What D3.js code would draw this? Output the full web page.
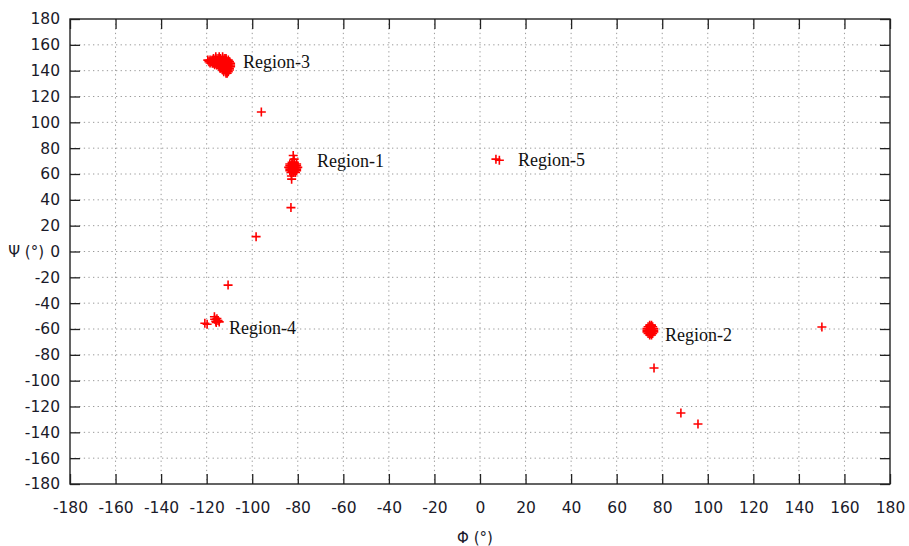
<!DOCTYPE html>
<html>
<head>
<meta charset="utf-8">
<script src="https://cdn.jsdelivr.net/npm/d3@7"></script>
<style>
  body { margin: 0; background: #fff; }
  .tick text { font-family: "DejaVu Sans", sans-serif; font-size: 15.5px; fill: #1a1a2a; }
  .lbl { font-family: "Liberation Serif", "Times New Roman", serif; font-size: 18px; fill: #111; }
  .ttl { font-family: "DejaVu Sans", sans-serif; font-size: 15px; fill: #1a1a2a; }
</style>
</head>
<body>
<div id="canvas"></div>
<script>
// ticks on both axes (degrees)
const ticks = [-180,-160,-140,-120,-100,-80,-60,-40,-20,0,20,40,60,80,100,120,140,160,180];

// [phi, psi] points
const region3 = [
  [-116,150.8],[-114.5,150.8],[-113,150.8],
  [-117,149.5],[-116,149.5],[-115,149.5],[-114,149.5],[-113,149.5],[-112,149.5],[-111.5,149.5],
  [-119.5,148.2],[-118.5,148.2],[-117.5,148.2],[-116.5,148.2],[-115.5,148.2],[-114.5,148.2],[-113.5,148.2],[-112.5,148.2],[-111.5,148.2],[-110.5,148.2],
  [-119,147],[-118,147],[-117,147],[-116,147],[-115,147],[-114,147],[-113,147],[-112,147],[-111,147],[-110,147],
  [-118.5,145.9],[-117.5,145.7],
  [-117,145.7],[-116,145.7],[-115,145.7],[-114,145.7],[-113,145.7],[-112,145.7],[-111,145.7],[-110,145.7],[-109.5,145.7],
  [-116.5,144.6],[-115.5,144.4],[-114.5,144.4],[-113.5,144.4],[-112.5,144.4],[-111.5,144.4],[-110.5,144.4],[-109.5,144.4],
  [-114.5,143.1],[-113.5,143.1],[-112.5,143.1],[-111.5,143.1],[-110.5,143.1],[-109.5,143.1],
  [-114,141.8],[-113,141.8],[-112,141.8],[-111,141.8],[-110,141.8],
  [-113,140.5],[-112,140.5],[-111,140.5],[-110,140.5],
  [-112.5,139.2],[-111.5,139.2],[-110.5,139.2],
  [-111.5,138],[-111,138]
];
const region1 = [
  [-82,74.3],[-81.6,71.5],
  [-82.5,69],[-81.5,69],
  [-83.5,67.7],[-82.5,67.7],[-81.5,67.7],[-80.5,67.7],
  [-83.5,66.4],[-82.5,66.4],[-81.5,66.4],[-80.5,66.4],
  [-84,65.1],[-83,65.1],[-82,65.1],[-81,65.1],[-80,65.1],
  [-83.5,63.8],[-82.5,63.8],[-81.5,63.8],[-80.5,63.8],
  [-83.5,62.5],[-82.5,62.5],[-81.5,62.5],[-80.5,62.5],
  [-83,61.2],[-82,61.2],[-81,61.2],
  [-82.8,58.5],[-82.7,56]
];
const region2 = [
  [74.5,-57],[75.3,-57],
  [73.8,-58.3],[74.8,-58.3],[75.8,-58.3],
  [73.3,-59.6],[74.3,-59.6],[75.3,-59.6],[76.3,-59.6],
  [73.3,-60.9],[74.3,-60.9],[75.3,-60.9],[76.3,-60.9],
  [73.3,-62.2],[74.3,-62.2],[75.3,-62.2],[76.3,-62.2],
  [73.8,-63.5],[74.8,-63.5],[75.8,-63.5],
  [74.5,-64.6],[75.3,-64.6]
];
const region4 = [
  [-120.8,-55.5],[-119.8,-56.3],[-116.6,-50.5],[-116.5,-52.5],[-115.5,-52],
  [-115,-53.5],[-116,-54],[-114.5,-54.5],[-115.8,-55]
];
const region5 = [[7,71.5],[8.5,70.7]];
const scattered = [
  [-96,108],[-83,34],[-98.3,11.5],[-110.6,-26],
  [76.4,-90.2],[88.2,-125],[95.7,-133.6],[150.1,-58.5]
];
const labels = [
  {text:"Region-3", phi:-104, psi:142},
  {text:"Region-1", phi:-71.6, psi:65.4},
  {text:"Region-5", phi:16.7, psi:66.2},
  {text:"Region-4", phi:-110.2, psi:-63.9},
  {text:"Region-2", phi:81.2, psi:-69.3}
];

const width = 909, height = 546;
const margin = {top: 19, left: 70, bottom: 62, right: 19};
const iwidth = width - margin.left - margin.right;
const iheight = height - margin.top - margin.bottom;

const svg = d3.select("#canvas").append("svg")
  .attr("width", width).attr("height", height);
const g = svg.append("g").attr("transform", `translate(${margin.left},${margin.top})`);

const x = d3.scaleLinear().domain([-180,180]).range([0, iwidth]);
const y = d3.scaleLinear().domain([-180,180]).range([iheight, 0]);
const fmt = d => String(d); // plain hyphen, like the original

// dotted grid
const inner = ticks.slice(1, -1);
g.append("g").selectAll("line.gx").data(inner).enter().append("line")
  .attr("x1", d => x(d)).attr("x2", d => x(d)).attr("y1", 0).attr("y2", iheight);
g.append("g").selectAll("line.gy").data(inner).enter().append("line")
  .attr("y1", d => y(d)).attr("y2", d => y(d)).attr("x1", 0).attr("x2", iwidth);
g.selectAll("line").attr("stroke", "#999").attr("stroke-width", 1).attr("stroke-dasharray", "1.3,3.3");

// axes, inward ticks on all four sides
const styleAxis = sel => {
  sel.select(".domain").remove();
  sel.selectAll(".tick line").attr("stroke", "#222").attr("stroke-width", 1.3);
};
g.append("g").attr("transform", `translate(0,${iheight})`)
  .call(d3.axisBottom(x).tickValues(ticks).tickFormat(fmt).tickSizeInner(-10).tickSizeOuter(0).tickPadding(18))
  .call(styleAxis);
g.append("g")
  .call(d3.axisLeft(y).tickValues(ticks).tickFormat(fmt).tickSizeInner(-10).tickSizeOuter(0).tickPadding(10))
  .call(styleAxis);
g.append("g")
  .call(d3.axisTop(x).tickValues(ticks).tickSizeInner(-10).tickSizeOuter(0).tickFormat(""))
  .call(styleAxis);
g.append("g").attr("transform", `translate(${iwidth},0)`)
  .call(d3.axisRight(y).tickValues(ticks).tickSizeInner(-10).tickSizeOuter(0).tickFormat(""))
  .call(styleAxis);
g.selectAll(".tick text").attr("font-family", null).attr("font-size", null);

g.append("rect").attr("width", iwidth).attr("height", iheight)
  .attr("fill", "none").attr("stroke", "#222").attr("stroke-width", 1.4);

// points
const pts = [].concat(region3, region1, region2, region4, region5, scattered);
g.append("g").selectAll("path").data(pts).enter().append("path")
  .attr("transform", d => `translate(${x(d[0])},${y(d[1])})`)
  .attr("d", "M-4.5,0H4.5M0,-4.5V4.5")
  .attr("stroke", "#ff0000").attr("stroke-width", 1.6).attr("fill", "none");

g.append("g").selectAll("text").data(labels).enter().append("text")
  .attr("class", "lbl")
  .attr("x", d => x(d.phi)).attr("y", d => y(d.psi))
  .text(d => d.text);

// axis titles
svg.append("text").attr("class", "ttl").attr("x", 475).attr("y", 543)
  .attr("text-anchor", "middle").text("Φ (°)");
svg.append("text").attr("class", "ttl").attr("x", 44).attr("y", 257)
  .attr("text-anchor", "end").text("Ψ (°)");
</script>
</body>
</html>
